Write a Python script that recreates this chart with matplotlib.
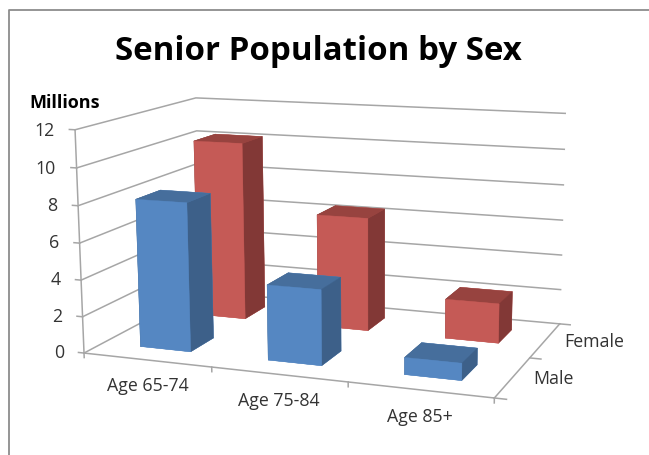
import matplotlib
matplotlib.use('Agg')
import matplotlib.pyplot as plt
from matplotlib.lines import Line2D
from mpl_toolkits.mplot3d import proj3d

categories = ['Age 65-74', 'Age 75-84', 'Age 85+']
series = ['Male', 'Female']
male = [8.1, 4.05, 0.9]
female = [10.2, 6.4, 2.2]
z_ticks = [0, 2, 4, 6, 8, 10, 12]

# bar faces in bar3d order: bottom, top, front, back, left, right
blue_faces = ['#5587c2', '#466e9c', '#5587c2', '#5587c2', '#3d6089', '#3d6089']
red_faces = ['#c55a56', '#97433f', '#c55a56', '#c55a56', '#823836', '#823836']
line_color = '#a6a6a6'
text_color = '#333333'

plt.rcParams['font.family'] = ['Open Sans', 'DejaVu Sans']

W, H = 649, 455
fig = plt.figure(figsize=(W / 100, H / 100), dpi=100)

# view fitted against the reference picture
ax = fig.add_axes([((W - H) / 2 - 2.13) / W, -9.92 / H, H / W, 1], projection='3d')
ax.set_xlim(0, 3, view_margin=0)
ax.set_ylim(0, 2, view_margin=0)
ax.set_zlim(0, 12, view_margin=0)
ax.view_init(11.8872, -68.9832, 0.3415)
ax.set_proj_type('persp', focal_length=0.6247)
ax.set_box_aspect((1, 0.6358, 0.5330), zoom=1.1516)
ax.set_axis_off()
ax.computed_zorder = False


def line3d(xs, ys, zs):
    ax.plot(xs, ys, zs, color=line_color, lw=1.1, zorder=1, clip_on=False)


def label3d(x, y, z, s, **kwargs):
    # place a label at a 3D spot, but keep it a plain 2D text
    px, py, _ = proj3d.proj_transform(x, y, z, ax.get_proj())
    ax.text2D(px, py, s, transform=ax.transData, va='center', fontsize=12.8,
              color=text_color, **kwargs)


# walls, floor and ticks
for v in z_ticks:
    line3d([0, 0, 3], [0, 2, 2], [v, v, v])
    line3d([-0.045, 0], [0, 0], [v, v])
    label3d(-0.165, 0, v - 0.1, str(v), ha='right')
line3d([0, 0], [0, 0], [0, 12])
line3d([0, 3], [0, 0], [0, 0])
line3d([3, 3], [0, 2], [0, 0])
for k in range(len(categories) + 1):
    line3d([k, k], [0, 0], [0, -0.25])
for k in range(len(series) + 1):
    line3d([3, 3.08], [k, k], [0, 0])

for i, label in enumerate(categories):
    label3d(i + 0.5, 0, -1.42, label, ha='center')
for j, label in enumerate(series):
    label3d(3.14, j + 0.5, 0, label, ha='left')

# back row first so the male bars sit in front
order = 2
for j, (values, faces) in enumerate([(female, red_faces), (male, blue_faces)]):
    y = 1.5 - j
    for i, v in enumerate(values):
        ax.bar3d(i + 0.3, y - 0.2, 0, 0.4, 0.4, v, color=faces, shade=False,
                 edgecolor=faces, linewidth=0.3, zorder=order)
        order += 1

fig.text(318.5 / W, 1 - 52 / H, 'Senior Population by Sex', ha='center', va='center',
         fontsize=23.8, fontweight='bold', color='black')
fig.text(29 / W, 1 - 103 / H, 'Millions', ha='left', va='center',
         fontsize=13, fontweight='bold', color='black')

# chart frame, cut off by the screenshot on the right and at the bottom
frame = Line2D([8.5 / W, 8.5 / W, 1], [0, 1 - 10 / H, 1 - 10 / H], transform=fig.transFigure,
               color='#8c8c8c', lw=1.3)
fig.add_artist(frame)

fig.savefig('out.png', dpi=100)
